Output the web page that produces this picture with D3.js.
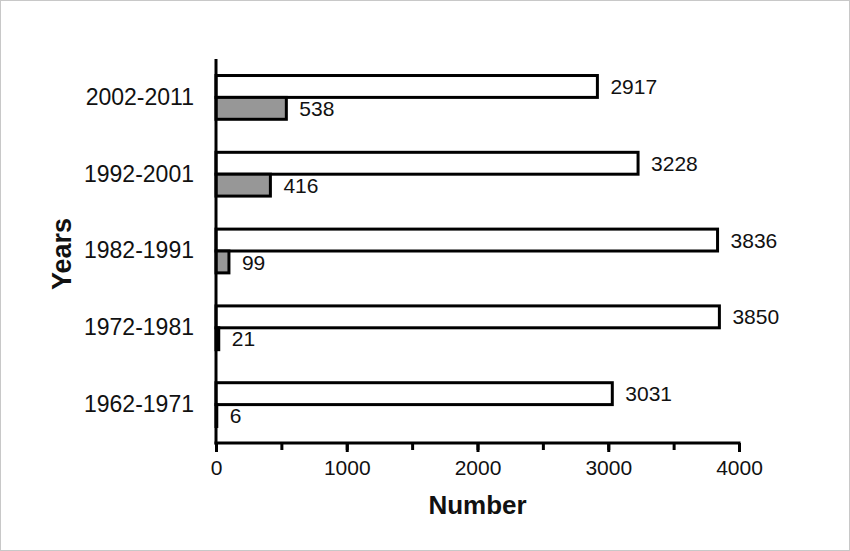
<!DOCTYPE html>
<html>
<head>
<meta charset="UTF-8">
<title>Number by years</title>
<style>
  body { margin: 0; background: #fff; }
  text { font-family: "Liberation Sans", Arial, sans-serif; fill: #111; }
</style>
</head>
<body>
<div id="chart"></div>
<script src="https://cdn.jsdelivr.net/npm/d3@7"></script>
<script>
// data, top to bottom as in the picture
var years = ["2002-2011", "1992-2001", "1982-1991", "1972-1981", "1962-1971"];
var whiteValues = [2917, 3228, 3836, 3850, 3031];
var grayValues = [538, 416, 99, 21, 6];
var xTicks = [0, 1000, 2000, 3000, 4000];
var xMinorTicks = [0, 500, 1000, 1500, 2000, 2500, 3000, 3500, 4000];

var width = 850, height = 551;
var margin = {left: 216, right: 111, top: 59, bottom: 108};

var svg = d3.select("#chart").append("svg")
    .attr("width", width)
    .attr("height", height);

// light frame around the figure
svg.append("rect")
    .attr("x", 0.5).attr("y", 0.5)
    .attr("width", width - 1).attr("height", height - 1)
    .attr("fill", "#fff")
    .attr("stroke", "#c8c8c8");

var x = d3.scaleLinear()
    .domain([0, 4000])
    .range([margin.left, width - margin.right]);

var y = d3.scaleBand()
    .domain(years)
    .range([margin.top, height - margin.bottom])
    .paddingInner(0.43)
    .paddingOuter(0.215);

var sub = d3.scaleBand()
    .domain(["white", "gray"])
    .range([0, y.bandwidth()]);

var rows = years.map(function (d, i) {
    return {year: d, white: whiteValues[i], gray: grayValues[i]};
});

var series = [
    {key: "white", fill: "#fff"},
    {key: "gray", fill: "#979797"}
];

var g = svg.append("g");

series.forEach(function (s) {
    g.selectAll(".bar-" + s.key)
        .data(rows)
        .join("rect")
        .attr("class", "bar-" + s.key)
        .attr("x", x(0))
        .attr("y", function (d) { return y(d.year) + sub(s.key); })
        .attr("width", function (d) { return x(d[s.key]) - x(0); })
        .attr("height", sub.bandwidth())
        .attr("fill", s.fill)
        .attr("stroke", "#000")
        .attr("stroke-width", 3);

    g.selectAll(".lab-" + s.key)
        .data(rows)
        .join("text")
        .attr("class", "lab-" + s.key)
        .attr("x", function (d) { return x(d[s.key]) + 13; })
        .attr("y", function (d) { return y(d.year) + sub(s.key) + sub.bandwidth() / 2; })
        .attr("dy", "0.36em")
        .attr("font-size", 21)
        .text(function (d) { return d[s.key]; });
});

// x axis: minor ticks every 500, labels every 1000
var axisY = height - margin.bottom;
var xMinor = svg.append("g")
    .attr("transform", "translate(0," + axisY + ")")
    .call(d3.axisBottom(x).tickValues(xMinorTicks).tickSize(7).tickFormat(""));
var xMajor = svg.append("g")
    .attr("transform", "translate(0," + axisY + ")")
    .call(d3.axisBottom(x).tickValues(xTicks).tickSize(9).tickPadding(8).tickFormat(d3.format("d")));
[xMinor, xMajor].forEach(function (a) {
    a.select(".domain").remove();
    a.selectAll(".tick line").attr("stroke", "#000").attr("stroke-width", 3);
});
xMajor.selectAll(".tick text")
    .attr("font-size", 21)
    .attr("font-family", "Liberation Sans, Arial, sans-serif")
    .attr("fill", "#111");

svg.append("line")
    .attr("x1", x(0) - 1.5).attr("x2", x(4000) + 1.5)
    .attr("y1", axisY).attr("y2", axisY)
    .attr("stroke", "#000").attr("stroke-width", 3);

// y axis
var yAxis = svg.append("g")
    .attr("transform", "translate(" + x(0) + ",0)")
    .call(d3.axisLeft(y).tickSize(0).tickPadding(22));
yAxis.select(".domain").remove();
yAxis.selectAll(".tick text")
    .attr("font-size", 23)
    .attr("font-family", "Liberation Sans, Arial, sans-serif")
    .attr("fill", "#111");

svg.append("line")
    .attr("x1", x(0)).attr("x2", x(0))
    .attr("y1", margin.top).attr("y2", axisY + 1.5)
    .attr("stroke", "#000").attr("stroke-width", 3);

// axis titles
svg.append("text")
    .attr("x", (x(0) + x(4000)) / 2)
    .attr("y", 514)
    .attr("text-anchor", "middle")
    .attr("font-size", 26)
    .attr("font-weight", "bold")
    .attr("fill", "#222")
    .text("Number");

svg.append("text")
    .attr("transform", "translate(71,254) rotate(-90)")
    .attr("text-anchor", "middle")
    .attr("font-size", 27)
    .attr("font-weight", "bold")
    .attr("fill", "#222")
    .text("Years");
</script>
</body>
</html>
